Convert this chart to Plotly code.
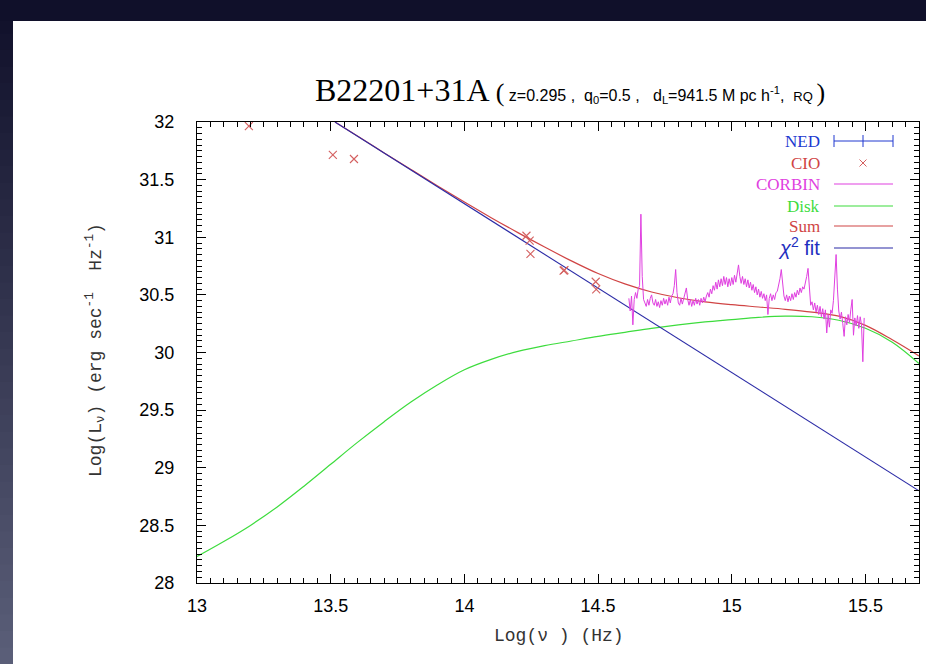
import plotly.graph_objects as go

# ---------------------------------------------------------------- data
# CIO photometry (log nu [Hz], log L_nu [erg s^-1 Hz^-1])
cio_x = [13.194, 13.508, 13.587, 14.232, 14.244, 14.247, 14.371, 14.374, 14.491, 14.493]
cio_y = [31.965, 31.714, 31.679, 31.013, 30.970, 30.855, 30.710, 30.714, 30.614, 30.548]

# chi^2 power-law fit
fit_x = [13.516, 15.70]
fit_y = [32.00, 28.80]

# accretion disk model
disk_x = [13.0, 13.1, 13.2, 13.3, 13.4, 13.5, 13.6, 13.7, 13.8, 13.9,
          14.0, 14.1, 14.2, 14.3, 14.4, 14.5, 14.6, 14.7, 14.8, 14.9,
          15.0, 15.1, 15.2, 15.3, 15.4, 15.5, 15.6, 15.7]
disk_y = [28.23, 28.36, 28.50, 28.66, 28.84, 29.03, 29.22, 29.40, 29.57, 29.72,
          29.85, 29.94, 30.01, 30.06, 30.10, 30.14, 30.175, 30.21, 30.24, 30.265,
          30.285, 30.305, 30.315, 30.31, 30.28, 30.21, 30.09, 29.905]

# total model (power law + disk)
sum_x = [13.516, 13.6, 13.7, 13.8, 13.9, 14.0, 14.1, 14.2, 14.3, 14.4,
         14.5, 14.6, 14.7, 14.8, 14.9, 15.0, 15.1, 15.2, 15.3, 15.4,
         15.5, 15.6, 15.7]
sum_y = [32.00, 31.878, 31.732, 31.588, 31.445, 31.305, 31.17, 31.04, 30.915, 30.795,
         30.685, 30.595, 30.525, 30.475, 30.44, 30.415, 30.395, 30.375, 30.35, 30.315,
         30.235, 30.11, 29.97]

# CORBIN optical/UV spectrum
corbin_x = [
    14.615, 14.620, 14.625, 14.630, 14.635, 14.640, 14.645, 14.650, 14.655, 14.660,
    14.665, 14.670, 14.675, 14.680, 14.685, 14.690, 14.695, 14.700, 14.705, 14.710,
    14.715, 14.720, 14.725, 14.730, 14.735, 14.740, 14.745, 14.750, 14.755, 14.760,
    14.765, 14.770, 14.775, 14.780, 14.785, 14.790, 14.795, 14.800, 14.805, 14.810,
    14.815, 14.820, 14.825, 14.830, 14.835, 14.840, 14.845, 14.850, 14.855, 14.860,
    14.865, 14.870, 14.875, 14.880, 14.885, 14.890, 14.895, 14.900, 14.905, 14.910,
    14.915, 14.920, 14.925, 14.930, 14.935, 14.940, 14.945, 14.950, 14.955, 14.960,
    14.965, 14.970, 14.975, 14.980, 14.985, 14.990, 14.995, 15.000, 15.005, 15.010,
    15.015, 15.020, 15.025, 15.030, 15.035, 15.040, 15.045, 15.050, 15.055, 15.060,
    15.065, 15.070, 15.075, 15.080, 15.085, 15.090, 15.095, 15.100, 15.105, 15.110,
    15.115, 15.120, 15.125, 15.130, 15.135, 15.140, 15.145, 15.150, 15.155, 15.160,
    15.165, 15.170, 15.175, 15.180, 15.185, 15.190, 15.195, 15.200, 15.205, 15.210,
    15.215, 15.220, 15.225, 15.230, 15.235, 15.240, 15.245, 15.250, 15.255, 15.260,
    15.265, 15.270, 15.275, 15.280, 15.285, 15.290, 15.295, 15.300, 15.305, 15.310,
    15.315, 15.320, 15.325, 15.330, 15.335, 15.340, 15.345, 15.350, 15.355, 15.360,
    15.365, 15.370, 15.375, 15.380, 15.385, 15.390, 15.395, 15.400, 15.405, 15.410,
    15.415, 15.420, 15.425, 15.430, 15.435, 15.440, 15.445, 15.450, 15.455, 15.460,
    15.465, 15.470, 15.475, 15.480, 15.485, 15.490, 15.495,
]
corbin_y = [
    30.47, 30.36, 30.49, 30.24, 30.46, 30.52, 30.47, 30.55, 30.58, 31.20,
    30.66, 30.46, 30.43, 30.40, 30.46, 30.41, 30.47, 30.50, 30.43, 30.41,
    30.46, 30.40, 30.44, 30.39, 30.45, 30.41, 30.47, 30.42, 30.46, 30.41,
    30.48, 30.43, 30.49, 30.51, 30.58, 30.72, 30.52, 30.43, 30.41, 30.47,
    30.42, 30.46, 30.50, 30.56, 30.46, 30.41, 30.46, 30.40, 30.45, 30.41,
    30.47, 30.42, 30.46, 30.41, 30.47, 30.43, 30.48, 30.44, 30.49, 30.52,
    30.48, 30.55, 30.51, 30.58, 30.54, 30.61, 30.55, 30.63, 30.57, 30.64,
    30.58, 30.66, 30.59, 30.65, 30.57, 30.64, 30.58, 30.65, 30.59, 30.67,
    30.61, 30.69, 30.76, 30.66, 30.60, 30.66, 30.59, 30.64, 30.57, 30.63,
    30.56, 30.61, 30.54, 30.59, 30.52, 30.57, 30.50, 30.55, 30.48, 30.53,
    30.47, 30.51, 30.45, 30.50, 30.33, 30.47, 30.51, 30.45, 30.50, 30.46,
    30.52, 30.53, 30.58, 30.64, 30.72, 30.58, 30.49, 30.45, 30.50, 30.44,
    30.49, 30.45, 30.51, 30.46, 30.52, 30.48, 30.54, 30.50, 30.56, 30.52,
    30.57, 30.55, 30.60, 30.66, 30.73, 30.52, 30.41, 30.44, 30.37, 30.43,
    30.35, 30.41, 30.33, 30.40, 30.31, 30.38, 30.29, 30.37, 30.17, 30.33,
    30.22, 30.37, 30.34, 30.45, 30.62, 30.85, 30.55, 30.36, 30.29, 30.35,
    30.25, 30.14, 30.31, 30.24, 30.33, 30.26, 30.37, 30.46, 30.15, 30.30,
    30.23, 30.32, 30.21, 30.31, 30.24, 29.92, 30.30,
]

legend_names = ["NED", "CIO", "CORBIN", "Disk", "Sum"]

# ---------------------------------------------------------------- styling
BLUE = "#2b2ba6"
RED = "#d04444"
CROSS = "#d46060"
GREEN = "#3ddc3d"
MAGENTA = "#e040e0"
NED_BLUE = "#2038d0"
TICK = "black"

W, H = 926, 664
PL, PR, PT, PB = 197, 919, 122, 583  # plot box in pixels


def fx(px):
    return (px - PL) / (PR - PL)


def fy(py):
    return (PB - py) / (PB - PT)


fig = go.Figure()

fig.add_trace(go.Scatter(x=disk_x, y=disk_y, mode="lines", line=dict(color=GREEN, width=1.2, shape="spline"),
                         name="Disk", showlegend=False))
fig.add_trace(go.Scatter(x=sum_x, y=sum_y, mode="lines", line=dict(color=RED, width=1.2, shape="spline"),
                         name="Sum", showlegend=False))
fig.add_trace(go.Scatter(x=fit_x, y=fit_y, mode="lines", line=dict(color=BLUE, width=1.1),
                         name="fit", showlegend=False))
fig.add_trace(go.Scatter(x=corbin_x, y=corbin_y, mode="lines", line=dict(color=MAGENTA, width=1),
                         name="CORBIN", showlegend=False))
fig.add_trace(go.Scatter(x=cio_x, y=cio_y, mode="markers",
                         marker=dict(symbol="x-thin", size=8, line=dict(color=CROSS, width=1.1)),
                         name="CIO", showlegend=False))

shapes = []
annotations = []

# dark frame around the white page
top_band = 21
left_band = 13
n_bands = 40
c0 = (16, 16, 42)
c1 = (90, 94, 120)
for i in range(n_bands):
    t = i / (n_bands - 1)
    col = "rgb(%d,%d,%d)" % tuple(round(a + (b - a) * t) for a, b in zip(c0, c1))
    y0 = H * i / n_bands
    y1 = H * (i + 1) / n_bands + 1
    shapes.append(dict(type="rect", xref="paper", yref="paper", x0=fx(0), x1=fx(left_band),
                       y0=fy(y1), y1=fy(y0), fillcolor=col, line=dict(width=0), layer="below"))
shapes.append(dict(type="rect", xref="paper", yref="paper", x0=fx(0), x1=fx(W + 2),
                   y0=fy(top_band), y1=fy(0), fillcolor="rgb(16,16,42)", line=dict(width=0), layer="below"))

# legend (labels on the left, samples on the right)
row_y = [141, 163, 184, 206, 226, 248]
label_colors = [NED_BLUE, RED, MAGENTA, GREEN, RED]
lx0, lx1, lxm, text_right = 834, 893, 863, 822
for name, ry, tc in zip(legend_names, row_y, label_colors):
    annotations.append(dict(xref="paper", yref="paper", x=fx(text_right), y=fy(ry), xanchor="right",
                            yanchor="middle", showarrow=False, text=name,
                            font=dict(family="Liberation Serif", size=17, color=tc)))
# NED: error-bar sample
shapes.append(dict(type="line", xref="paper", yref="paper", x0=fx(lx0), x1=fx(lx1), y0=fy(row_y[0]),
                   y1=fy(row_y[0]), line=dict(color=NED_BLUE, width=1)))
for cx in (lx0, lxm, lx1):
    shapes.append(dict(type="line", xref="paper", yref="paper", x0=fx(cx), x1=fx(cx), y0=fy(row_y[0] - 6),
                       y1=fy(row_y[0] + 6), line=dict(color=NED_BLUE, width=1)))
# CIO: cross sample
for d in (1, -1):
    shapes.append(dict(type="line", xref="paper", yref="paper", x0=fx(lxm - 3.5), x1=fx(lxm + 3.5),
                       y0=fy(row_y[1] - 3.5 * d), y1=fy(row_y[1] + 3.5 * d), line=dict(color=CROSS, width=1)))
# line samples
for ry, col in zip(row_y[2:] + [row_y[5]], [MAGENTA, GREEN, RED, BLUE]):
    shapes.append(dict(type="line", xref="paper", yref="paper", x0=fx(lx0), x1=fx(lx1), y0=fy(ry), y1=fy(ry),
                       line=dict(color=col, width=1.2)))
annotations.append(dict(xref="paper", yref="paper", x=fx(text_right), y=fy(row_y[5] - 2), xanchor="right",
                        yanchor="middle", showarrow=False, text="<i>χ</i><sup>2</sup> fit",
                        font=dict(family="Liberation Sans", size=20, color="#1f2fc0")))

# title
title_text = (
    "<span style='font-family:Liberation Serif;font-size:32px'>B22201+31A </span>"
    "<span style='font-family:Liberation Serif;font-size:26px'>(</span>"
    "<span style='font-family:Liberation Sans;font-size:16px'> z=0.295 ,  q<sub>0</sub>=0.5 ,"
    "   d<sub>L</sub>=941.5 M pc h<sup>-1</sup>,  </span>"
    "<span style='font-family:Liberation Sans;font-size:13px'>RQ </span>"
    "<span style='font-family:Liberation Serif;font-size:26px'>)</span>"
)
annotations.append(dict(xref="paper", yref="paper", x=fx(570), y=fy(90), xanchor="center", yanchor="middle",
                        showarrow=False, text=title_text, font=dict(color="black")))

# axis titles
annotations.append(dict(xref="paper", yref="paper", x=fx(559), y=fy(636), xanchor="center", yanchor="middle",
                        showarrow=False, text="Log(ν ) (Hz)",
                        font=dict(family="Liberation Mono", size=18, color="#333333")))
annotations.append(dict(xref="paper", yref="paper", x=fx(95), y=fy(350), xanchor="center", yanchor="middle",
                        showarrow=False, textangle=-90,
                        text="Log(L<sub>ν</sub>) (erg sec<sup>-1</sup>  Hz<sup>-1</sup>)",
                        font=dict(family="Liberation Mono", size=18, color="#333333")))

fig.update_layout(
    width=W, height=H, autosize=False,
    margin=dict(l=PL, r=W - PR, t=PT, b=H - PB, pad=0),
    paper_bgcolor="white", plot_bgcolor="white",
    showlegend=False,
    shapes=shapes,
    annotations=annotations,
)
fig.update_xaxes(range=[13, 15.7], showgrid=False, zeroline=False, showline=True, linecolor="black",
                 linewidth=1, mirror="allticks", ticks="inside", ticklen=9, tickwidth=1.2, tickcolor=TICK,
                 tickmode="linear", tick0=13, dtick=0.5, ticklabelstandoff=6,
                 tickfont=dict(family="Liberation Sans", size=18, color="black"),
                 minor=dict(ticks="inside", ticklen=5, tickwidth=1.1, tickcolor=TICK, dtick=0.05))
fig.update_yaxes(range=[28, 32], showgrid=False, zeroline=False, showline=True, linecolor="black",
                 linewidth=1, mirror="allticks", ticks="inside", ticklen=9, tickwidth=1.2, tickcolor=TICK,
                 tickmode="linear", tick0=28, dtick=0.5, ticklabelstandoff=18,
                 tickfont=dict(family="Liberation Sans", size=18, color="black"),
                 minor=dict(ticks="inside", ticklen=5, tickwidth=1.1, tickcolor=TICK, dtick=0.05))

fig.write_html("out.html")
